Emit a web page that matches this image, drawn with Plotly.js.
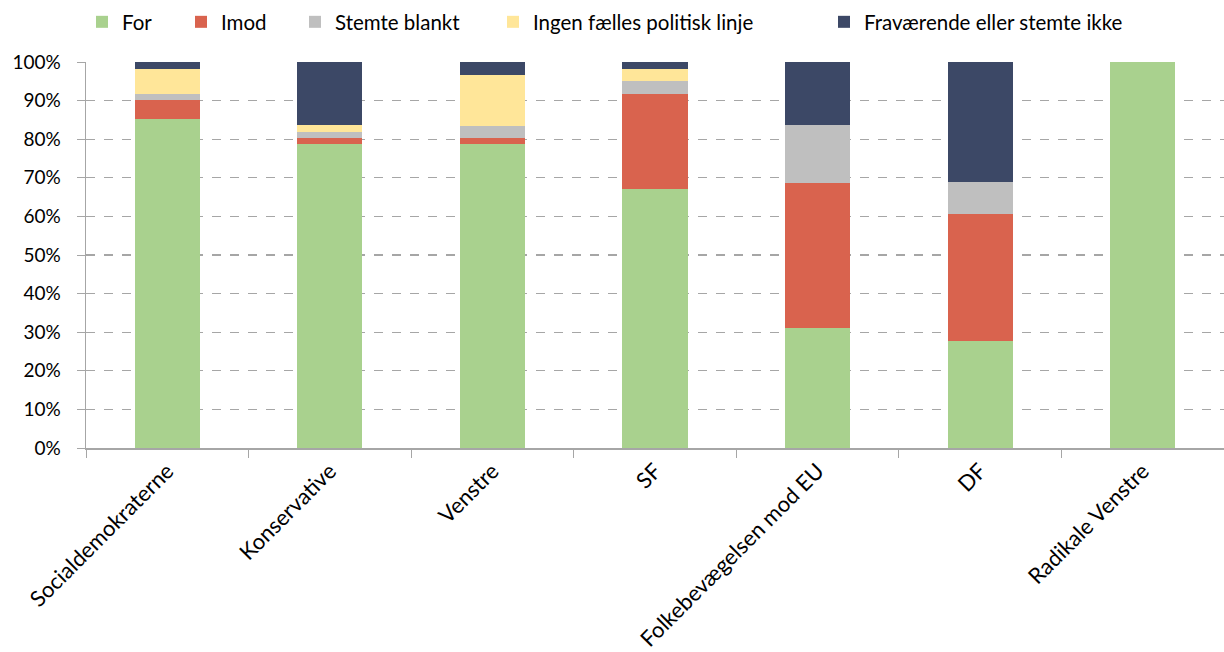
<!DOCTYPE html>
<html>
<head>
<meta charset="utf-8">
<script src="https://cdn.plot.ly/plotly-3.0.1.min.js"></script>
<style>html,body{margin:0;padding:0;background:#fff;}#chart{width:1224px;height:652px;}</style>
</head>
<body>
<div id="chart"></div>
<script>
const categories = ["Socialdemokraterne", "Konservative", "Venstre", "SF", "Folkebevægelsen mod EU", "DF", "Radikale Venstre"];
const seriesNames = ["For", "Imod", "Stemte blankt", "Ingen fælles politisk linje", "Fraværende eller stemte ikke"];
const forVals    = [85.2, 78.7, 78.7, 67.2, 31.2, 27.8, 100];
const imodVals   = [5.0, 1.5, 1.6, 24.6, 37.5, 32.8, 0];
const blankVals  = [1.6, 1.7, 3.2, 3.2, 14.9, 8.2, 0];
const ingenVals  = [6.5, 1.7, 13.2, 3.3, 0, 0, 0];
const fravVals   = [1.7, 16.4, 3.3, 1.7, 16.4, 31.2, 0];
const colors = ["#A9D18E", "#D9634E", "#BFBFBF", "#FFE699", "#3C4866"];
const allVals = [forVals, imodVals, blankVals, ingenVals, fravVals];
const legendTextX = [122, 221, 335, 533, 864];

const legendIds = ["legend", "legend2", "legend3", "legend4", "legend5"];
const traces = allVals.map((v, i) => ({
  type: "bar",
  name: seriesNames[i],
  x: categories,
  y: v,
  legend: legendIds[i],
  marker: {color: colors[i], line: {width: 0}},
  hoverinfo: "x+y+name"
}));

const W = 1224, H = 652;
const M = {l: 86, r: 0, t: 62, b: 204};
const plotW = W - M.l - M.r, plotH = H - M.t - M.b;
const font = "Lato, 'Open Sans', sans-serif";
const layout = {
  width: W, height: H,
  barmode: "stack",
  bargap: 0.6,
  margin: M,
  paper_bgcolor: "#fff", plot_bgcolor: "#fff",
  font: {family: font, size: 19, color: "#000"},
  showlegend: true,
  xaxis: {
    type: "category",
    range: [-0.5, 6.5],
    automargin: false,
    tickangle: -45,
    tickson: "boundaries",
    ticks: "outside", ticklen: 8, tickcolor: "#A6A6A6",
    showline: true, linecolor: "#A6A6A6", linewidth: 1.5,
    showgrid: false,
    tickfont: {family: font, size: 22, color: "#000"}
  },
  yaxis: {
    range: [0, 100],
    automargin: false,
    dtick: 10,
    ticksuffix: "%",
    ticks: "outside", ticklen: 8, tickcolor: "#A6A6A6",
    ticklabelstandoff: 12,
    showline: true, linecolor: "#A6A6A6", linewidth: 1.5,
    showgrid: true, gridcolor: "#A6A6A6", griddash: "dash", gridwidth: 1.2,
    zeroline: false,
    tickfont: {family: font, size: 19, color: "#000"}
  }
};
legendIds.forEach((id, i) => {
  layout[id] = {
    xref: "paper", yref: "paper",
    x: (legendTextX[i] - 40 - M.l) / plotW, xanchor: "left",
    y: 1 + (M.t - 22) / plotH, yanchor: "middle",
    bgcolor: "rgba(0,0,0,0)",
    font: {family: font, size: 20.5, color: "#000"},
    itemwidth: 30
  };
});

Plotly.newPlot("chart", traces, layout, {displayModeBar: false, staticPlot: true});
</script>
</body>
</html>
